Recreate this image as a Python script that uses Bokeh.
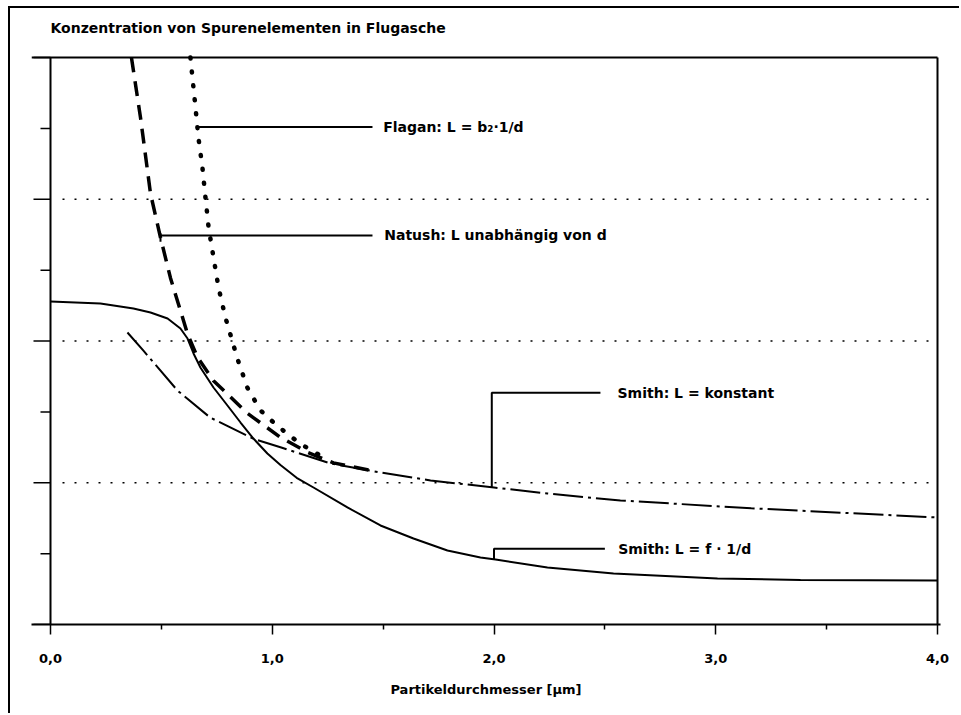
from bokeh.plotting import figure
from bokeh.models import Range1d, FixedTicker
from bokeh.core.properties import value
from bokeh.embed import file_html
from bokeh.resources import INLINE

# ---------------- data ----------------
title_text = "Konzentration von Spurenelementen in Flugasche"
x_label = "Partikeldurchmesser [\u03bcm]"
x_min, x_max = 0.0, 4.0
y_min, y_max = 0.0, 8.0
x_ticks = [0, 1, 2, 3, 4]
x_minor = [0.5, 1.5, 2.5, 3.5]
x_tick_labels = ["0,0", "1,0", "2,0", "3,0", "4,0"]
y_major = [0, 2, 4, 6, 8]
y_minor = [1, 3, 5, 7]
y_grid = [2, 4, 6]

# Smith: L = f * 1/d  (solid)
smith_f_x = [0.0, 0.225, 0.374, 0.451, 0.528, 0.586, 0.618, 0.645, 0.676, 0.735, 0.798,
             0.857, 0.915, 0.978, 1.037, 1.11, 1.186, 1.339, 1.488, 1.637, 1.790, 1.939,
             2.007, 2.241, 2.539, 3.008, 3.382, 4.0]
smith_f_y = [4.557, 4.529, 4.459, 4.402, 4.317, 4.176, 4.035, 3.824, 3.626, 3.344, 3.090,
             2.850, 2.624, 2.413, 2.25, 2.07, 1.933, 1.651, 1.397, 1.213, 1.044, 0.945,
             0.917, 0.804, 0.720, 0.649, 0.628, 0.621]

# Smith: L = konstant  (dash-dot)
smith_k_x = [0.347, 0.42, 0.573, 0.72, 0.915, 1.037, 1.263, 1.488, 1.714, 2.0, 2.241, 2.57, 3.16, 4.0]
smith_k_y = [4.12, 3.86, 3.30, 2.92, 2.62, 2.50, 2.272, 2.145, 2.032, 1.933, 1.848, 1.75, 1.64, 1.51]

# Natush: L unabhaengig von d  (dashed)
natush_x = [0.365, 0.406, 0.451, 0.496, 0.541, 0.618, 0.663, 0.735, 0.888, 1.037, 1.159, 1.276, 1.466]
natush_y = [8.0, 7.15, 6.08, 5.46, 4.89, 4.10, 3.77, 3.44, 2.98, 2.64, 2.43, 2.28, 2.16]

# Flagan: L = b2 * 1/d  (dotted)
flagan_x = [0.631, 0.654, 0.667, 0.685, 0.699, 0.713, 0.735, 0.758, 0.789, 0.843, 0.888,
            0.947, 1.006, 1.06, 1.127, 1.218]
flagan_y = [8.0, 7.29, 6.87, 6.45, 6.02, 5.60, 5.18, 4.75, 4.33, 3.75, 3.34,
            3.02, 2.85, 2.71, 2.55, 2.38]

# annotation leader lines (x path, y path) and label anchors
lead_flagan_x = [0.662, 1.452]
lead_flagan_y = [7.02, 7.02]
lead_natush_x = [0.496, 1.452]
lead_natush_y = [5.49, 5.49]
lead_natush_tick_x = [0.496, 0.496]
lead_natush_tick_y = [5.52, 5.40]
lead_smk_x = [1.99, 1.99, 2.48]
lead_smk_y = [1.94, 3.27, 3.27]
lead_smf_x = [2.0, 2.0, 2.5]
lead_smf_y = [0.92, 1.07, 1.07]

label_x = [1.50, 1.505, 2.557, 2.56]
label_y = [7.02, 5.49, 3.27, 1.07]
label_text = ["Flagan: L = b\u2082\u00b71/d", "Natush: L unabh\u00e4ngig von d",
              "Smith: L = konstant", "Smith: L = f \u00b7 1/d"]
title_pos = (0.0, 8.42)

# ---------------- figure ----------------
FONT = "DejaVu Sans"
px_x = 221.75   # px per x unit
px_y = 70.875   # px per y unit

p = figure(width=951, height=707,
           x_range=Range1d(x_min - 19 / px_x, x_max + 3 / px_x),
           y_range=Range1d(y_min, y_max + 43 / px_y),
           output_backend="svg", toolbar_location=None,
           min_border_left=21, min_border_right=21, min_border_top=6, min_border_bottom=91)
p.styles = {"margin-left": "8px", "margin-top": "6px",
            "border-left": "2px solid black", "border-top": "2px solid black"}
p.background_fill_color = "white"
p.border_fill_color = "white"
p.outline_line_color = None
p.grid.visible = False
p.yaxis.visible = False
p.title.visible = False

xa = p.xaxis[0]
xa.ticker = FixedTicker(ticks=x_ticks, minor_ticks=x_minor)
xa.major_label_overrides = {t: l for t, l in zip(x_ticks, x_tick_labels)}
xa.axis_line_width = 2
xa.axis_line_color = "black"
xa.major_tick_line_width = 1.5
xa.minor_tick_line_width = 1.5
xa.major_tick_in = 0
xa.major_tick_out = 10
xa.minor_tick_in = 0
xa.minor_tick_out = 5
xa.major_label_standoff = 19
xa.major_label_text_font = FONT
xa.major_label_text_font_style = "bold"
xa.major_label_text_font_size = "13px"
xa.major_label_text_color = "black"
xa.axis_label = x_label
xa.axis_label_text_font = FONT
xa.axis_label_text_font_style = "bold"
xa.axis_label_text_font_size = "13px"
xa.axis_label_text_color = "black"
xa.axis_label_standoff = 16

# frame: y axis line, top line, right line
p.line([x_min, x_min], [y_min, y_max], line_color="black", line_width=2)
p.line([x_min - 19 / px_x, x_max], [y_max, y_max], line_color="black", line_width=2)
p.line([x_max, x_max], [y_min, y_max], line_color="black", line_width=2)

# y ticks
p.segment(x0=[x_min - 17 / px_x] * len(y_major), x1=[x_min] * len(y_major), y0=y_major, y1=y_major,
          line_color="black", line_width=1.5)
p.segment(x0=[x_min - 10 / px_x] * len(y_minor), x1=[x_min] * len(y_minor), y0=y_minor, y1=y_minor,
          line_color="black", line_width=1.5)

# dotted grid lines
p.segment(x0=[x_min + 12 / px_x] * len(y_grid), x1=[x_max] * len(y_grid), y0=y_grid, y1=y_grid,
          line_color="black", line_width=1.3, line_dash="2 10")

# curves
p.line(smith_f_x, smith_f_y, line_color="black", line_width=2)
p.line(smith_k_x, smith_k_y, line_color="black", line_width=2, line_dash="30 5 3 5")
p.line(natush_x, natush_y, line_color="black", line_width=3.5, line_dash="15 9")
p.line(flagan_x, flagan_y, line_color="black", line_width=4.5, line_dash="1 13", line_cap="round")

# leader lines
for lx, ly in [(lead_flagan_x, lead_flagan_y), (lead_natush_x, lead_natush_y),
               (lead_natush_tick_x, lead_natush_tick_y),
               (lead_smk_x, lead_smk_y), (lead_smf_x, lead_smf_y)]:
    p.line(lx, ly, line_color="black", line_width=2)

p.text(x=label_x, y=label_y, text=label_text, text_font=value(FONT), text_font_style="bold",
       text_font_size="14px", text_baseline="middle", text_align="left", text_color="black")

p.text(x=[title_pos[0]], y=[title_pos[1]], text=[title_text], text_font=value(FONT),
       text_font_style="bold", text_font_size="14px", text_baseline="middle",
       text_align="left", text_color="black")

open("out.html", "w").write(file_html(p, INLINE))
